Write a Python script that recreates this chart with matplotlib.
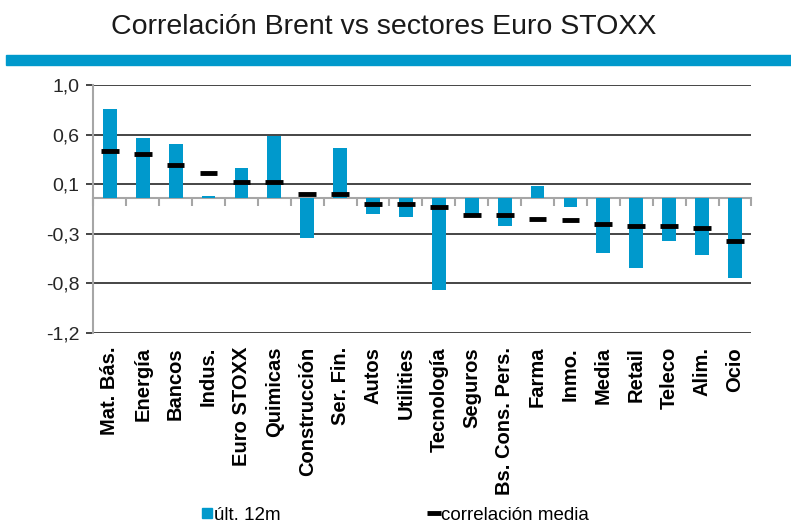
import numpy as np
import matplotlib
matplotlib.use("Agg")
from matplotlib import pyplot as plt
from matplotlib.lines import Line2D
from matplotlib.patches import Rectangle

plt.rcParams['font.family'] = ['Liberation Sans', 'DejaVu Sans']

sectores = ['Mat. Bás.', 'Energía', 'Bancos', 'Indus.', 'Euro STOXX', 'Quimicas',
            'Construcción', 'Ser. Fin.', 'Autos', 'Utilities', 'Tecnología', 'Seguros',
            'Bs. Cons. Pers.', 'Farma', 'Inmo.', 'Media', 'Retail', 'Teleco', 'Alim.', 'Ocio']
ult_12m = [0.79, 0.53, 0.48, 0.015, 0.26, 0.55, -0.36, 0.445, -0.14, -0.175,
           -0.815, -0.175, -0.255, 0.105, -0.085, -0.49, -0.625, -0.38, -0.51, -0.71]
corr_media = [0.41, 0.385, 0.29, 0.22, 0.14, 0.14, 0.03, 0.03, -0.06, -0.06,
              -0.085, -0.15, -0.15, -0.19, -0.2, -0.23, -0.25, -0.25, -0.265, -0.38]
y_ticks = [1.0, 0.56, 0.12, -0.32, -0.76, -1.2]
y_labels = ['1,0', '0,6', '0,1', '-0,3', '-0,8', '-1,2']

azul = '#0099CC'
gris = '#A6A6A6'
oscuro = '#262626'

fig = plt.figure(figsize=(7.91, 5.23), dpi=100)

# titulo y banda azul
fig.text(0.485, 0.948, 'Correlación Brent vs sectores Euro STOXX', ha='center', va='center',
         fontsize=20.5, color='#1a1a1a')
fig.patches.append(Rectangle((0.008, 0.876), 0.992, 0.018, transform=fig.transFigure,
                             color=azul, zorder=0))

ax = fig.add_axes([0.118, 0.3633, 0.832, 0.4742])
x = np.arange(len(sectores))

ax.bar(x, ult_12m, width=0.42, color=azul, zorder=2)
ax.hlines(corr_media, x - 0.27, x + 0.27, color='black', linewidth=3.5, zorder=4)

ax.set_xlim(-0.5, len(sectores) - 0.5)
ax.set_ylim(-1.2, 1.0)
ax.set_yticks(y_ticks)
ax.set_yticklabels(y_labels, fontsize=14, color=oscuro)
ax.yaxis.grid(True, color=oscuro, linewidth=1.2, zorder=1)
ax.tick_params(axis='y', length=5, width=1.2, color=oscuro, pad=5)

ax.set_xticks(x)
ax.set_xticklabels(sectores, rotation=90, fontsize=14.5, fontweight='bold', color='black')
ax.tick_params(axis='x', length=0, pad=10)

for s in ['top', 'right', 'bottom']:
    ax.spines[s].set_visible(False)
ax.spines['left'].set_color(gris)
ax.spines['left'].set_linewidth(1.5)
ax.spines['left'].set_zorder(3)

# eje en cero con marcas entre categorias
eje0 = ax.secondary_xaxis(0, transform=ax.transData)
eje0.set_xticks(np.arange(len(sectores) + 1) - 0.5)
eje0.tick_params(axis='x', length=5.5, width=1.5, color=gris, labelbottom=False)
eje0.spines['bottom'].set_color(gris)
eje0.spines['bottom'].set_linewidth(1.5)

handles = [Line2D([], [], linestyle='none', marker='s', markersize=6.5, color=azul),
           Line2D([], [], linestyle='none', marker='_', markersize=10, markeredgewidth=3.5,
                  color='black')]
fig.legend(handles, ['últ. 12m', 'correlación media'], loc='center', ncol=2,
           bbox_to_anchor=(0.5, 0.015), frameon=False, fontsize=13.5,
           handlelength=0.5, handletextpad=0.15, columnspacing=7.9)

fig.savefig('out.png', dpi=100)
